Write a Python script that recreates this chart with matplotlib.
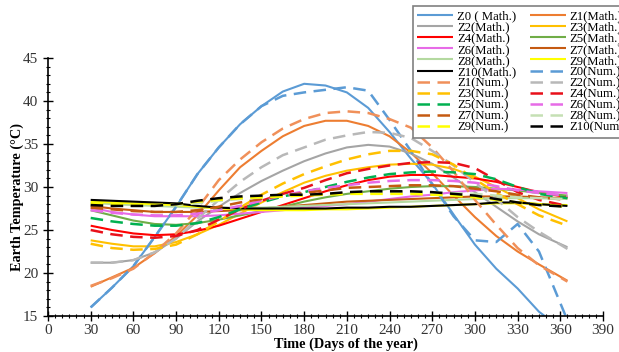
import matplotlib
matplotlib.use("Agg")
import matplotlib.pyplot as plt
from matplotlib.ticker import MultipleLocator

days = [30, 45, 60, 75, 90, 105, 120, 135, 150, 165, 180, 195, 210, 225, 240, 255, 270, 285, 300, 315, 330, 345, 365]

z0_math = [16, 18.3, 20.8, 24.2, 27.7, 31.5, 34.6, 37.3, 39.4, 41.1, 42, 41.8, 41, 39.2, 36.4, 33.3, 30.4, 26.8, 23.3, 20.5, 18.2, 15.5, 13]
z0_num = [16, 18.3, 20.8, 24.2, 27.7, 31.5, 34.6, 37.3, 39.4, 40.6, 41, 41.3, 41.6, 41.2, 37.8, 34.2, 30.3, 26.6, 23.8, 23.6, 25.7, 22.5, 14.5]
z1_math = [18.4, 19.5, 20.6, 22.3, 24.3, 26.7, 29.6, 32.3, 34.2, 35.9, 37.1, 37.7, 37.7, 37.1, 35.9, 34, 31.6, 29, 26.5, 24.3, 22.5, 21, 19.1]
z1_num = [18.5, 19.4, 20.5, 22.4, 24.6, 27.5, 30.8, 33.2, 35.2, 36.8, 37.9, 38.6, 38.8, 38.6, 37.9, 36.9, 34.6, 31.8, 28.5, 25.6, 22.9, 20.9, 19]
z2_math = [21.2, 21.2, 21.5, 22.4, 24, 26, 27.7, 29.3, 30.7, 31.9, 33, 33.9, 34.6, 34.9, 34.7, 33.9, 32.7, 31.1, 29.4, 27.7, 26, 24.5, 23]
z2_num = [21.2, 21.2, 21.5, 22.4, 24, 26.3, 28.5, 30.6, 32.3, 33.7, 34.6, 35.5, 36, 36.4, 36.3, 35.7, 34.2, 32.5, 30.5, 28.6, 26.5, 24.8, 22.8]
z3_math = [23.8, 23.4, 23.1, 23.1, 23.6, 24.5, 25.6, 26.9, 28.2, 29.4, 30.5, 31.3, 31.9, 32.3, 32.6, 32.7, 32.6, 32.1, 31.2, 30, 28.7, 27.4, 26]
z3_num = [23.4, 22.9, 22.7, 22.8, 23.3, 24.5, 26, 27.6, 29.1, 30.4, 31.5, 32.4, 33.2, 33.8, 34.2, 34.2, 33.8, 32.6, 30.9, 29.3, 28, 26.7, 25.5]
z4_math = [25.5, 25, 24.6, 24.4, 24.5, 24.9, 25.5, 26.3, 27.1, 27.9, 28.7, 29.5, 30.2, 30.8, 31.2, 31.4, 31.4, 31.2, 31, 30.6, 30, 29.4, 28.8]
z4_num = [25, 24.5, 24.2, 24.1, 24.3, 25, 26.2, 27.4, 28.4, 29.2, 29.9, 30.8, 31.6, 32.1, 32.5, 32.8, 32.9, 32.8, 32.2, 30.8, 29.4, 28.5, 27.8]
z5_math = [27.3, 26.7, 26.1, 25.7, 25.6, 25.8, 26.2, 26.7, 27.2, 27.7, 28.3, 28.8, 29.2, 29.5, 29.8, 30, 30.1, 30.1, 30, 29.8, 29.6, 29.3, 29]
z5_num = [26.4, 26, 25.7, 25.5, 25.5, 25.8, 26.5, 27.4, 28.2, 28.9, 29.4, 30, 30.6, 31.1, 31.5, 31.7, 31.8, 31.7, 31.5, 30.9, 30, 29.2, 28.7]
z6_math = [27.6, 27.1, 26.8, 26.6, 26.6, 26.6, 26.7, 26.9, 27.1, 27.3, 27.6, 27.8, 28, 28.3, 28.6, 28.9, 29.1, 29.4, 29.6, 29.8, 29.7, 29.5, 29.3]
z6_num = [27.3, 27, 26.8, 26.7, 26.7, 26.9, 27.3, 27.8, 28.4, 29, 29.5, 29.9, 30.2, 30.5, 30.7, 30.8, 30.8, 30.7, 30.5, 30.1, 29.6, 29.3, 29]
z7_math = [27.8, 27.5, 27.3, 27.1, 27.1, 27.1, 27.2, 27.3, 27.5, 27.7, 27.9, 28.1, 28.3, 28.4, 28.5, 28.6, 28.7, 28.8, 28.9, 28.9, 28.9, 28.8, 28.7]
z7_num = [27.6, 27.4, 27.2, 27.1, 27.1, 27.3, 27.7, 28.2, 28.6, 29, 29.3, 29.6, 29.9, 30, 30.1, 30.2, 30.2, 30.1, 29.8, 29.5, 29.1, 28.8, 28.5]
z8_math = [28.2, 28, 27.9, 27.8, 27.7, 27.6, 27.6, 27.6, 27.6, 27.7, 27.8, 27.9, 28, 28.1, 28.2, 28.3, 28.4, 28.5, 28.6, 28.7, 28.7, 28.7, 28.6]
z8_num = [28, 27.9, 27.8, 27.8, 27.9, 28.1, 28.4, 28.6, 28.8, 29, 29.1, 29.2, 29.3, 29.4, 29.4, 29.4, 29.4, 29.3, 29.2, 29, 28.8, 28.7, 28.6]
z9_math = [28.3, 28.2, 28.1, 28, 27.9, 27.7, 27.5, 27.4, 27.3, 27.3, 27.3, 27.4, 27.4, 27.5, 27.6, 27.7, 27.8, 27.9, 28, 28.1, 28.1, 28, 27.9]
z9_num = [28.1, 28, 27.9, 27.9, 28, 28.3, 28.5, 28.7, 28.8, 28.9, 29, 29.1, 29.2, 29.2, 29.2, 29.2, 29.1, 29, 28.8, 28.5, 28.2, 28, 27.7]
z10_math = [28.5, 28.4, 28.3, 28.2, 28.1, 27.8, 27.6, 27.5, 27.5, 27.5, 27.5, 27.5, 27.6, 27.6, 27.7, 27.7, 27.8, 27.9, 28, 28.2, 28.2, 28, 27.8]
z10_num = [27.9, 27.8, 27.8, 27.8, 28, 28.4, 28.7, 28.9, 29, 29.1, 29.1, 29.2, 29.4, 29.5, 29.5, 29.5, 29.4, 29.2, 29, 28.6, 28.2, 27.9, 27.7]

math_series = [z0_math, z1_math, z2_math, z3_math, z4_math, z5_math, z6_math, z7_math, z8_math, z9_math, z10_math]
num_series = [z0_num, z1_num, z2_num, z3_num, z4_num, z5_num, z6_num, z7_num, z8_num, z9_num, z10_num]
math_labels = ["Z0 ( Math.)"] + [f"Z{i}(Math.)" for i in range(1, 11)]
num_labels = [f"Z{i}(Num.)" for i in range(0, 10)] + ["Z10(Num"]

math_colors = ["#5B9BD5", "#ED7D31", "#A5A5A5", "#FFC000", "#FF0000", "#70AD47",
               "#E76BE7", "#C55A11", "#B4D9A0", "#FFFF00", "#000000"]
num_colors = ["#5B9BD5", "#F0905A", "#B8B8B8", "#FFC000", "#E8101A", "#00B050",
              "#E76BE7", "#C55A11", "#C5E0B4", "#FFFF00", "#000000"]

plt.rcParams['font.family'] = ['Liberation Serif', 'DejaVu Serif']

fig = plt.figure(figsize=(6.19, 3.52), dpi=100)
ax = fig.add_axes([48/619, 1-316/352, 555/619, 258/352])

handles = {}
for i in range(11):
    h, = ax.plot(days, math_series[i], color=math_colors[i], lw=1.5, solid_capstyle='butt')
    handles[math_labels[i]] = h
for i in range(11):
    h, = ax.plot(days, num_series[i], color=num_colors[i], lw=1.8, dashes=(5, 3))
    handles[num_labels[i]] = h

ax.set_xlim(0, 390)
ax.set_ylim(15, 45)
ax.xaxis.set_major_locator(MultipleLocator(30))
ax.xaxis.set_minor_locator(MultipleLocator(5))
ax.yaxis.set_major_locator(MultipleLocator(5))
ax.yaxis.set_minor_locator(MultipleLocator(1))
ax.tick_params(which='major', direction='inout', length=7, width=1, labelsize=11, colors='black')
ax.tick_params(which='minor', direction='inout', length=3, width=0.8)
ax.tick_params(axis='x', pad=2)
for s in ['top', 'right']:
    ax.spines[s].set_visible(False)
for s in ['left', 'bottom']:
    ax.spines[s].set_linewidth(1.2)
for lbl in ax.get_xticklabels() + ax.get_yticklabels():
    lbl.set_color('#333333')

ax.set_xlabel("Time (Days of the year)", fontsize=10.3, fontweight='bold')
ax.set_ylabel("Earth Temperature (°C)", fontsize=10.3, fontweight='bold')
ax.xaxis.set_label_coords(0.537, -0.082)
ax.yaxis.set_label_coords(-0.043, 0.46)

col1 = [math_labels[i] for i in range(0, 11, 2)] + [num_labels[i] for i in range(1, 11, 2)]
col2 = [math_labels[i] for i in range(1, 11, 2)] + [num_labels[i] for i in range(0, 11, 2)]
order = col1 + col2
leg = fig.legend([handles[k] for k in order], order, ncol=2, loc='upper left',
                 bbox_to_anchor=(413/619, 1-6/352), fontsize=9.2, frameon=True,
                 fancybox=False, edgecolor='#808080', framealpha=1,
                 handlelength=2.8, handletextpad=0.3, labelspacing=-0.07,
                 columnspacing=1.1, borderpad=0.35, borderaxespad=0)
leg.get_frame().set_linewidth(1.2)

fig.savefig("out.png", dpi=100)
